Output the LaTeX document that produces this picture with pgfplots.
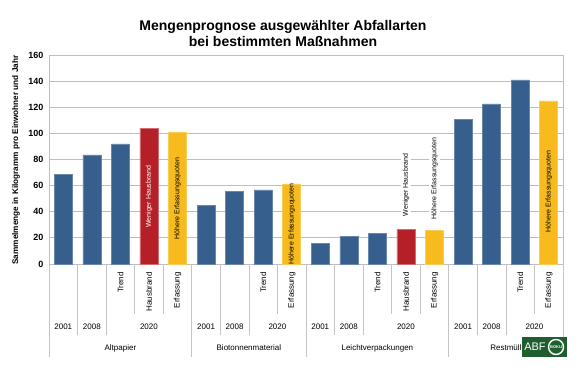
\documentclass[border=0pt]{standalone}
\usepackage{fontspec}
\setmainfont{Liberation Sans}
\usepackage{pgfplots}
\pgfplotsset{compat=1.18}
\usepackage{pgfplotstable}
\definecolor{barblue}{HTML}{365F8E}
\definecolor{barred}{HTML}{B51F27}
\definecolor{baryellow}{HTML}{F8BB1D}
\definecolor{gridgray}{HTML}{BEBEBE}
\definecolor{sepgray}{HTML}{C4C4C4}
\definecolor{abfgreen}{HTML}{1F5E2E}

\pgfplotstableread{
x y
0.5 68.5
1.5 83.5
2.5 92
5.5 45
6.5 55.7
7.5 56.7
9.5 15.6
10.5 21.2
11.5 23.5
14.5 110.8
15.5 122.5
16.5 140.9
}\bluedata
\pgfplotstableread{
x y
3.5 104
12.5 26.5
}\reddata
\pgfplotstableread{
x y
4.5 101
8.5 61.3
13.5 25.8
17.5 124.8
}\yellowdata

\begin{document}
\begin{tikzpicture}
\path[use as bounding box] (0,0) rectangle (580pt,371pt);
\begin{axis}[
  at={(49pt,107pt)}, anchor=south west,
  scale only axis, width=514pt, height=209pt,
  xmin=0, xmax=18, ymin=0, ymax=160,
  xtick=\empty, ytick={0,20,...,160},
  ymajorgrids, grid style={gridgray, line width=0.9pt},
  axis line style={gridgray, line width=0.9pt},
  major tick length=0pt,
  /pgf/number format/assume math mode=true,
  yticklabel style={font=\bfseries\fontsize{9}{9}\selectfont, xshift=-2pt},
  clip=false,
  every axis plot/.append style={ybar, bar width=0.63, bar shift=0pt, line width=0.6pt},
]
\addplot[fill=barblue, draw=barblue!75!white] table[x=x,y=y]{\bluedata};
\addplot[fill=barred, draw=barred!65!white] table[x=x,y=y]{\reddata};
\addplot[fill=baryellow, draw=baryellow!75!white] table[x=x,y=y]{\yellowdata};

% in-bar labels
\begin{scope}[every node/.style={rotate=90, font=\fontsize{7}{7}\selectfont, inner sep=1pt}]
\node[white] at (axis cs:3.5,51.5) {Weniger Hausbrand};
\node[black] at (axis cs:4.5,50) {Höhere Erfassungsquoten};
\node[black] at (axis cs:8.5,30.5) {Höhere Erfassungsquoten};
\node[black] at (axis cs:17.5,55.5) {Höhere Erfassungsquoten};
\node[black, fill=white, inner sep=2pt] at (axis cs:12.5,60.5) {Weniger Hausbrand};
\node[black, fill=white, inner sep=2pt] at (axis cs:13.5,65.5) {Höhere Erfassungsquoten};
\end{scope}

% separators
\begin{scope}[sepgray, line width=0.7pt]
\draw (axis cs:0,0) -- ++(0pt,-93pt);
\draw (axis cs:1,0) -- ++(0pt,-71pt);
\draw (axis cs:2,0) -- ++(0pt,-71pt);
\draw (axis cs:3,0) -- ++(0pt,-50pt);
\draw (axis cs:4,0) -- ++(0pt,-50pt);
\draw (axis cs:5,0) -- ++(0pt,-93pt);
\draw (axis cs:6,0) -- ++(0pt,-71pt);
\draw (axis cs:7,0) -- ++(0pt,-71pt);
\draw (axis cs:8,0) -- ++(0pt,-50pt);
\draw (axis cs:9,0) -- ++(0pt,-93pt);
\draw (axis cs:10,0) -- ++(0pt,-71pt);
\draw (axis cs:11,0) -- ++(0pt,-71pt);
\draw (axis cs:12,0) -- ++(0pt,-50pt);
\draw (axis cs:13,0) -- ++(0pt,-50pt);
\draw (axis cs:14,0) -- ++(0pt,-93pt);
\draw (axis cs:15,0) -- ++(0pt,-71pt);
\draw (axis cs:16,0) -- ++(0pt,-71pt);
\draw (axis cs:17,0) -- ++(0pt,-50pt);
\draw (axis cs:18,0) -- ++(0pt,-93pt);
\end{scope}

% level 1 labels
\begin{scope}[every node/.style={rotate=90, anchor=east, font=\fontsize{8}{8}\selectfont, inner sep=0pt}]
\node at ([yshift=-8pt]axis cs:2.5,0) {Trend};
\node at ([yshift=-8pt]axis cs:3.5,0) {Hausbrand};
\node at ([yshift=-8pt]axis cs:4.5,0) {Erfassung};
\node at ([yshift=-8pt]axis cs:7.5,0) {Trend};
\node at ([yshift=-8pt]axis cs:8.5,0) {Erfassung};
\node at ([yshift=-8pt]axis cs:11.5,0) {Trend};
\node at ([yshift=-8pt]axis cs:12.5,0) {Hausbrand};
\node at ([yshift=-8pt]axis cs:13.5,0) {Erfassung};
\node at ([yshift=-8pt]axis cs:16.5,0) {Trend};
\node at ([yshift=-8pt]axis cs:17.5,0) {Erfassung};
\end{scope}

% level 2 labels
\begin{scope}[every node/.style={font=\fontsize{8}{8}\selectfont, inner sep=0pt}]
\node at ([yshift=-63pt]axis cs:0.5,0) {2001};
\node at ([yshift=-63pt]axis cs:1.5,0) {2008};
\node at ([yshift=-63pt]axis cs:3.5,0) {2020};
\node at ([yshift=-63pt]axis cs:5.5,0) {2001};
\node at ([yshift=-63pt]axis cs:6.5,0) {2008};
\node at ([yshift=-63pt]axis cs:8,0) {2020};
\node at ([yshift=-63pt]axis cs:9.5,0) {2001};
\node at ([yshift=-63pt]axis cs:10.5,0) {2008};
\node at ([yshift=-63pt]axis cs:12.5,0) {2020};
\node at ([yshift=-63pt]axis cs:14.5,0) {2001};
\node at ([yshift=-63pt]axis cs:15.5,0) {2008};
\node at ([yshift=-63pt]axis cs:17,0) {2020};
% level 3
\node at ([yshift=-84pt]axis cs:2.5,0) {Altpapier};
\node at ([yshift=-84pt]axis cs:7,0) {Biotonnenmaterial};
\node at ([yshift=-84pt]axis cs:11.5,0) {Leichtverpackungen};
\node at ([yshift=-84pt]axis cs:16,0) {Restmüll};
\end{scope}
\end{axis}

% y label
\node[rotate=90, font=\bfseries\fontsize{8.2}{8.2}\selectfont] at (16pt,211pt) {Sammelmenge in Kilogramm pro Einwohner und Jahr};
% title
\node[align=center, font=\bfseries\fontsize{14}{16}\selectfont] at (283pt,337pt) {Mengenprognose ausgewählter Abfallarten\\bei bestimmten Maßnahmen};
% logo
\fill[abfgreen] (522pt,14pt) rectangle (567pt,34pt);
\node[white, font=\fontsize{11}{11}\selectfont, inner sep=0pt] at (535pt,24pt) {ABF};
\draw[white, line width=1.4pt] (556pt,24pt) circle (7.5pt);
\node[white, font=\bfseries\fontsize{4}{4}\selectfont, inner sep=0pt] at (556pt,24pt) {BOKU};
\end{tikzpicture}
\end{document}
